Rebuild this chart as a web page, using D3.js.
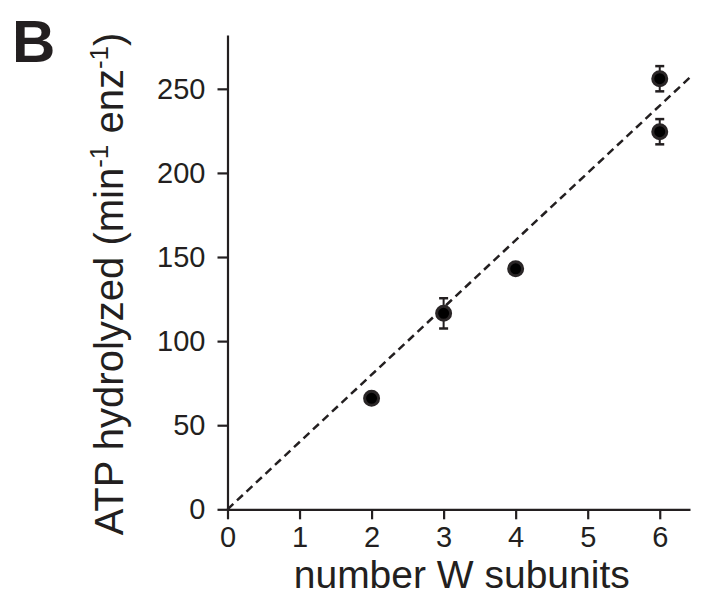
<!DOCTYPE html>
<html>
<head>
<meta charset="utf-8">
<script src="https://cdn.jsdelivr.net/npm/d3@7"></script>
<style>
body { margin: 0; background: #fff; }
text { font-family: "Liberation Sans", Arial, sans-serif; fill: #231f20; }
</style>
</head>
<body>
<svg id="chart" width="702" height="596"></svg>
<script>
// subunit counts and measured rates (with error)
var subunits = [2, 3, 4, 6, 6];
var rates = [66, 116.5, 143, 256, 224.5];
var errors = [0, 9, 0, 7.5, 7.5];
var xTicks = [0, 1, 2, 3, 4, 5, 6];
var yTicks = [0, 50, 100, 150, 200, 250];
var fitSlope = 40; // dashed line through origin

var ink = "#231f20";
var svg = d3.select("#chart");

var x = d3.scaleLinear().domain([0, 6.42]).range([227.5, 690]);
var y = d3.scaleLinear().domain([0, 282]).range([509.3, 35]);

var xAxis = svg.append("g")
    .attr("transform", "translate(0," + y(0) + ")")
    .call(d3.axisBottom(x).tickValues(xTicks).tickSize(10).tickSizeOuter(0).tickPadding(7).tickFormat(d3.format("d")));
var yAxis = svg.append("g")
    .attr("transform", "translate(" + x(0) + ",0)")
    .call(d3.axisLeft(y).tickValues(yTicks).tickSize(10).tickSizeOuter(0).tickPadding(12).tickFormat(d3.format("d")));

[xAxis, yAxis].forEach(function(a) {
    a.attr("font-size", 29).attr("font-family", "Liberation Sans, Arial, sans-serif");
    a.select(".domain").attr("stroke", ink).attr("stroke-width", 2.2);
    a.selectAll(".tick line").attr("stroke", ink).attr("stroke-width", 2.2);
    a.selectAll(".tick text").attr("fill", ink);
});

// fit line
var xEnd = x.domain()[1];
svg.append("line")
    .attr("x1", x(0)).attr("y1", y(0))
    .attr("x2", x(xEnd)).attr("y2", y(fitSlope * xEnd))
    .attr("stroke", ink).attr("stroke-width", 2.5)
    .attr("stroke-dasharray", "8,5");

// error bars
var pts = subunits.map(function(d, i) { return {x: d, y: rates[i], e: errors[i]}; });
var eb = svg.append("g").selectAll("g").data(pts.filter(function(d) { return d.e > 0; })).join("g");
eb.append("line")
    .attr("x1", function(d) { return x(d.x); }).attr("x2", function(d) { return x(d.x); })
    .attr("y1", function(d) { return y(d.y - d.e); }).attr("y2", function(d) { return y(d.y + d.e); })
    .attr("stroke", ink).attr("stroke-width", 2);
eb.selectAll(".cap").data(function(d) { return [[d.x, d.y - d.e], [d.x, d.y + d.e]]; }).join("line")
    .attr("x1", function(d) { return x(d[0]) - 4.5; }).attr("x2", function(d) { return x(d[0]) + 4.5; })
    .attr("y1", function(d) { return y(d[1]); }).attr("y2", function(d) { return y(d[1]); })
    .attr("stroke", ink).attr("stroke-width", 2.5);

// points
svg.append("g").selectAll("circle").data(pts).join("circle")
    .attr("cx", function(d) { return x(d.x); })
    .attr("cy", function(d) { return y(d.y); })
    .attr("r", 7)
    .attr("fill", "#000")
    .attr("stroke", "#2a2627")
    .attr("stroke-width", 3);

// axis titles
svg.append("text")
    .attr("x", (x.range()[0] + x.range()[1]) / 2 + 3)
    .attr("y", 588)
    .attr("text-anchor", "middle")
    .attr("font-size", 39)
    .text("number W subunits");

var yl = svg.append("text")
    .attr("transform", "translate(123,284) rotate(-90)")
    .attr("text-anchor", "middle")
    .attr("font-size", 40);
yl.append("tspan").text("ATP hydrolyzed (min");
yl.append("tspan").attr("font-size", 26).attr("dy", -15).text("-1");
yl.append("tspan").attr("dy", 15).text(" enz");
yl.append("tspan").attr("font-size", 26).attr("dy", -15).text("-1");
yl.append("tspan").attr("dy", 15).text(")");

// panel letter
svg.append("text")
    .attr("x", 12).attr("y", 62)
    .attr("font-size", 60)
    .attr("font-weight", "bold")
    .text("B");
</script>
</body>
</html>
